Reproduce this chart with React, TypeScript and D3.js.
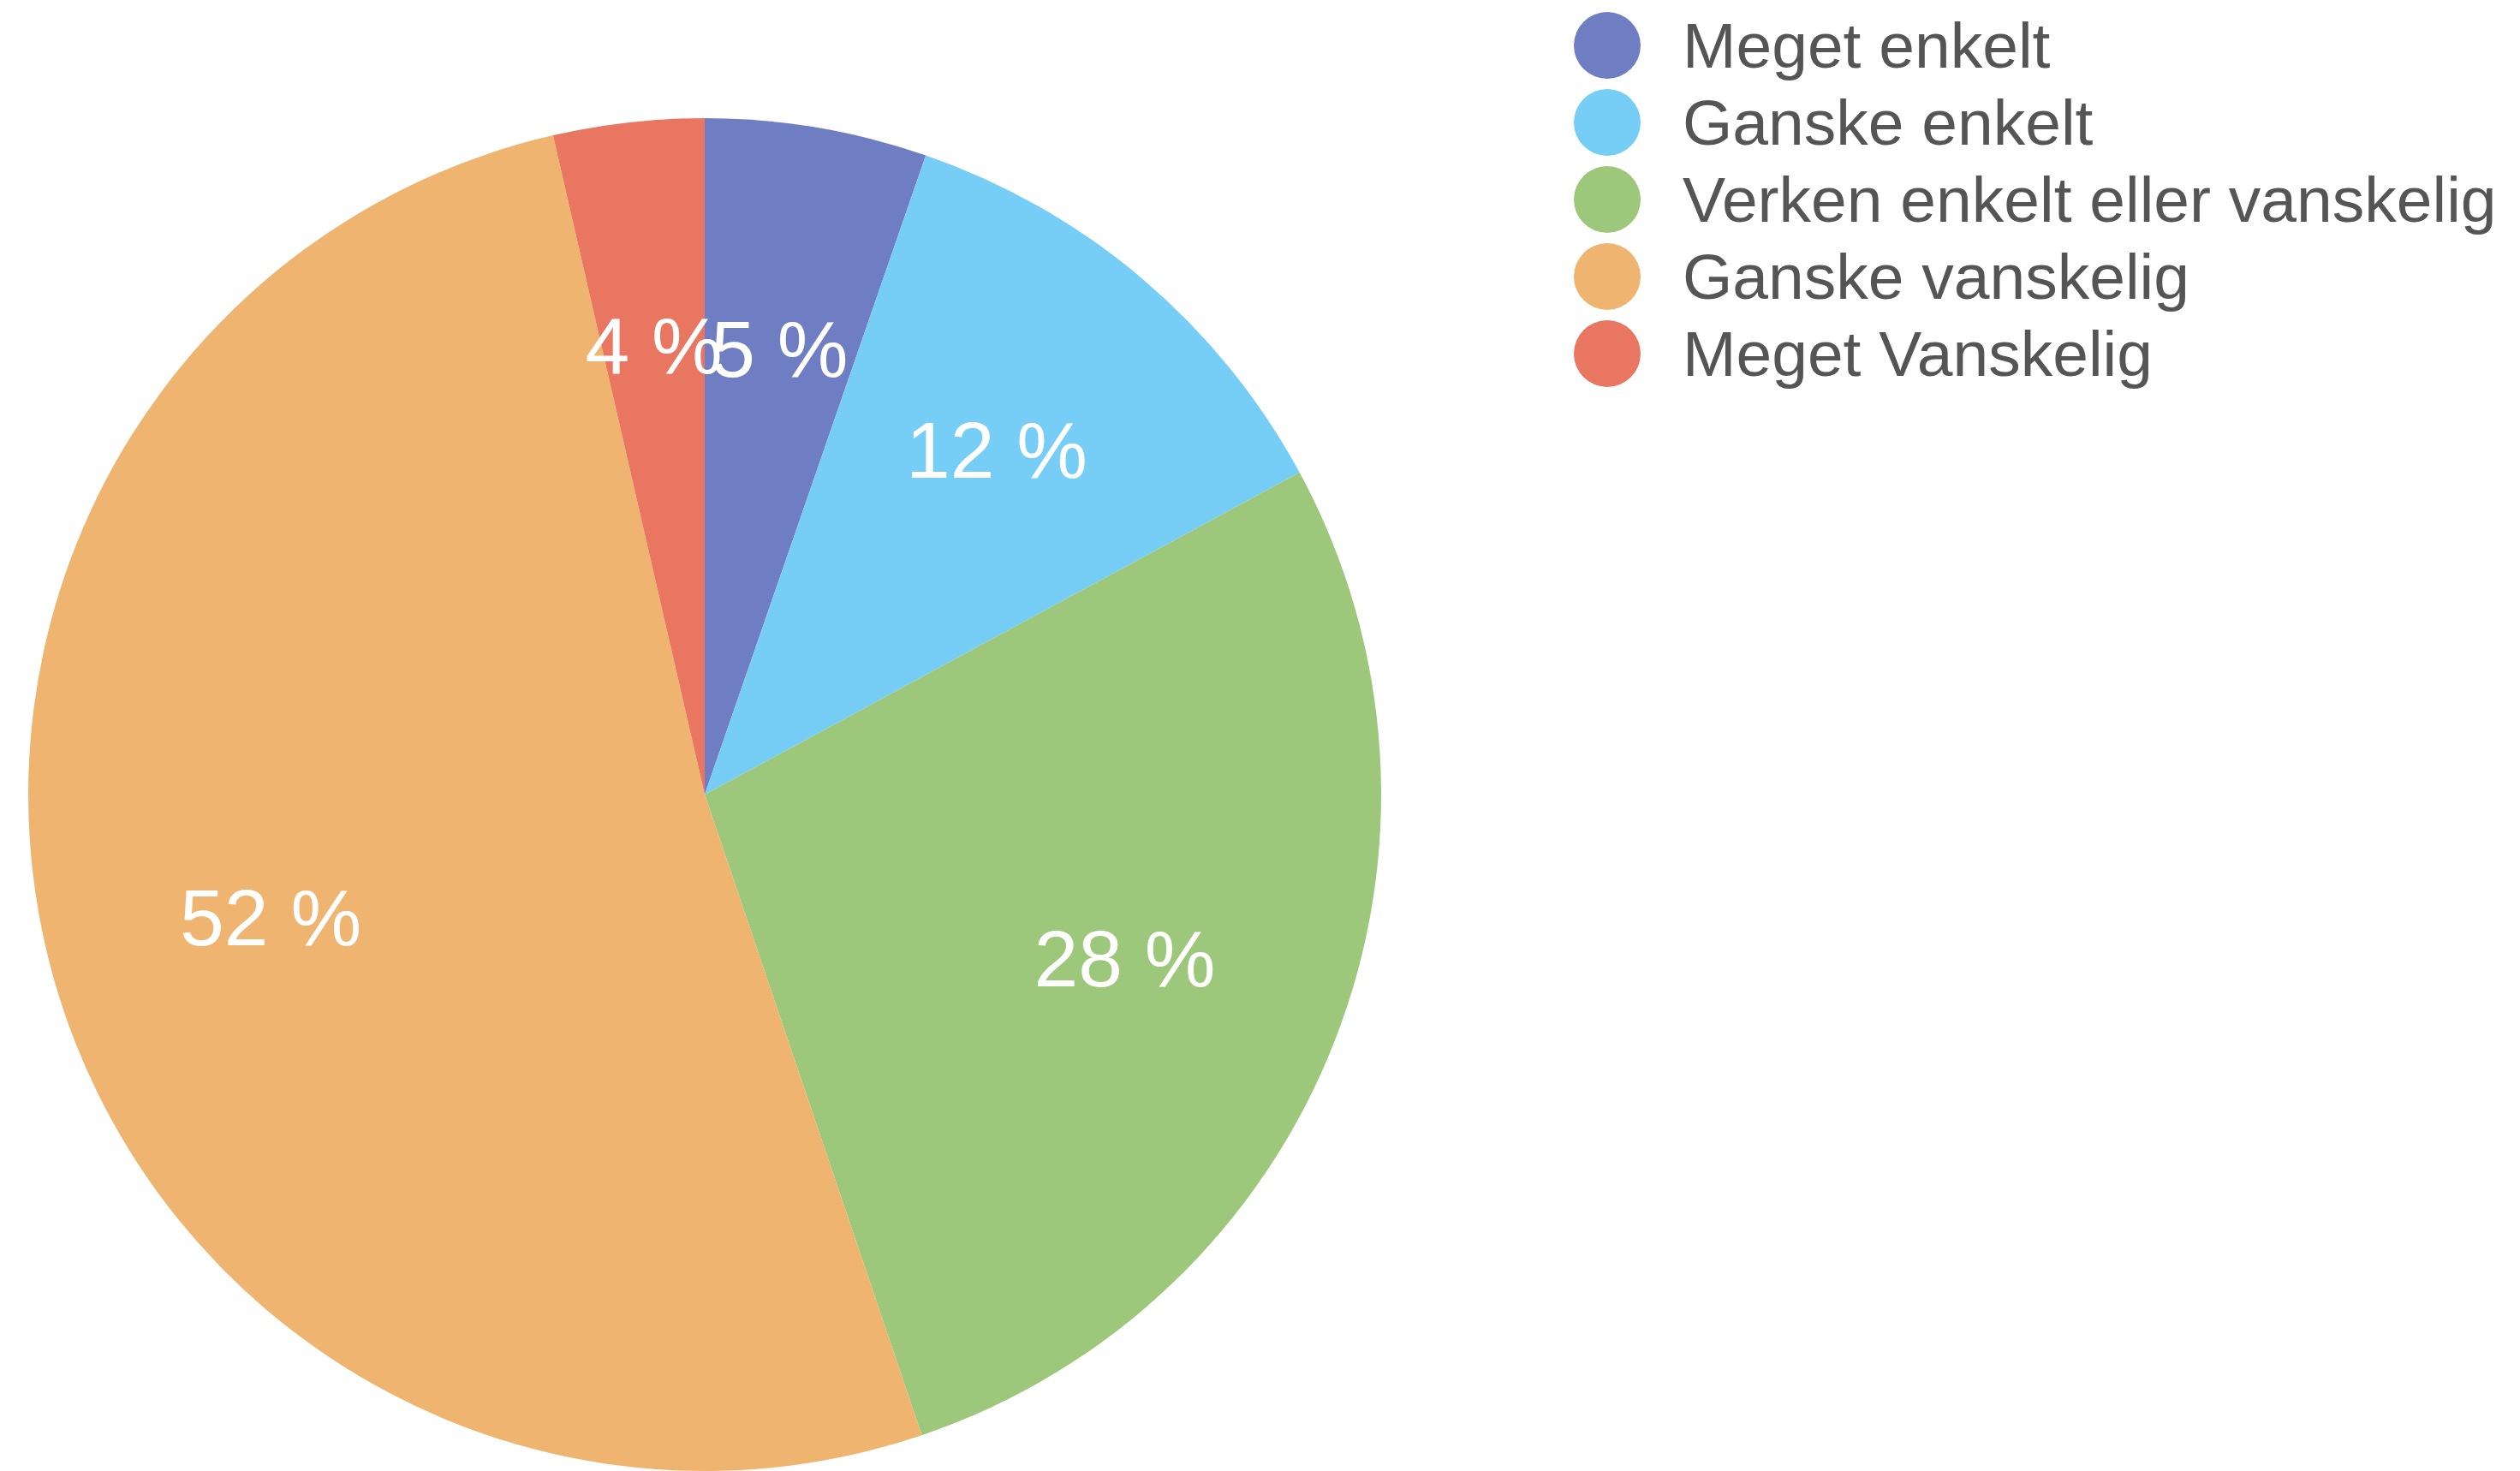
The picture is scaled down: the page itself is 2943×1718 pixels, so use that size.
import * as d3 from "d3";
import * as React from "react";

const categories = [
  "Meget enkelt",
  "Ganske enkelt",
  "Verken enkelt eller vanskelig",
  "Ganske vanskelig",
  "Meget Vanskelig",
];
const shares = [5.3, 11.8, 27.7, 51.6, 3.6];
const colors = ["#6f7dc2", "#76cdf5", "#9dc87c", "#efb570", "#e87660"];

interface Slice {
  name: string;
  value: number;
  color: string;
}

export default function App() {
  const width = 2943;
  const height = 1718;
  const cx = 823;
  const cy = 928;
  const radius = 790;

  const svgRef = React.useRef<SVGSVGElement>(null);

  const data: Slice[] = categories.map((name, i) => ({
    name,
    value: shares[i],
    color: colors[i],
  }));

  React.useEffect(() => {
    const svgElement = svgRef.current;
    if (svgElement == null) return;
    const svg = d3.select(svgElement);
    svg.selectAll("*").remove();

    const pie = d3
      .pie<Slice>()
      .sort(null)
      .value((d) => d.value);
    const arcs = pie(data);

    const arc = d3.arc<d3.PieArcDatum<Slice>>().innerRadius(0).outerRadius(radius);
    const labelArc = d3
      .arc<d3.PieArcDatum<Slice>>()
      .innerRadius(radius * 0.667)
      .outerRadius(radius * 0.667);

    const g = svg.append("g").attr("transform", `translate(${cx},${cy})`);

    g.selectAll("path")
      .data(arcs)
      .join("path")
      .attr("d", arc)
      .attr("fill", (d) => d.data.color);

    g.selectAll("text")
      .data(arcs)
      .join("text")
      .attr("transform", (d) => `translate(${labelArc.centroid(d)})`)
      .attr("text-anchor", "middle")
      .attr("dominant-baseline", "central")
      .attr("fill", "#ffffff")
      .attr("font-family", "'Liberation Sans', Arial, sans-serif")
      .attr("font-size", 93)
      .text((d) => `${Math.round(d.data.value)} %`);

    // legend
    const legendY = d3
      .scalePoint<string>()
      .domain(categories)
      .range([53, 413]);

    const legend = svg
      .append("g")
      .selectAll("g")
      .data(data)
      .join("g")
      .attr("transform", (d) => `translate(1877,${legendY(d.name)})`);

    legend
      .append("circle")
      .attr("r", 39)
      .attr("fill", (d) => d.color);

    legend
      .append("text")
      .attr("x", 88)
      .attr("dominant-baseline", "central")
      .attr("fill", "#555555")
      .attr("font-family", "'Liberation Sans', Arial, sans-serif")
      .attr("font-size", 75)
      .text((d) => d.name);
  }, [data]);

  return (
    <svg
      ref={svgRef}
      width={width}
      height={height}
      viewBox={`0 0 ${width} ${height}`}
      style={{ position: "absolute", left: 0, top: 0, background: "#ffffff" }}
    ></svg>
  );
}
